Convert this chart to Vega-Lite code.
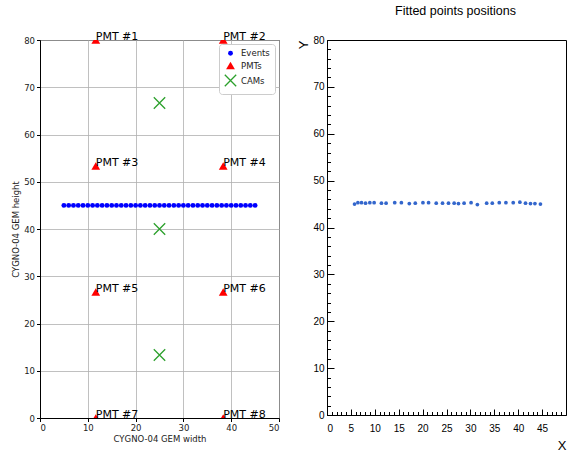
{
  "$schema": "https://vega.github.io/schema/vega-lite/v6.json",
  "padding": {"left": 11, "top": 0, "right": 0, "bottom": 0},
  "spacing": 17,
  "resolve": {"legend": {"shape": "independent", "fill": "independent", "stroke": "independent", "size": "independent"}},
  "config": {
    "view": {"stroke": "black", "strokeWidth": 1},
    "axis": {"domainColor": "black", "tickColor": "black", "labelColor": "#222", "titleColor": "#222", "titleFontWeight": "normal"}
  },
  "datasets": {
    "left": [
      {"x": 5, "y": 45, "type": "Events"}, {"x": 6, "y": 45, "type": "Events"}, {"x": 7, "y": 45, "type": "Events"},
      {"x": 8, "y": 45, "type": "Events"}, {"x": 9, "y": 45, "type": "Events"}, {"x": 10, "y": 45, "type": "Events"},
      {"x": 11, "y": 45, "type": "Events"}, {"x": 12, "y": 45, "type": "Events"}, {"x": 13, "y": 45, "type": "Events"},
      {"x": 14, "y": 45, "type": "Events"}, {"x": 15, "y": 45, "type": "Events"}, {"x": 16, "y": 45, "type": "Events"},
      {"x": 17, "y": 45, "type": "Events"}, {"x": 18, "y": 45, "type": "Events"}, {"x": 19, "y": 45, "type": "Events"},
      {"x": 20, "y": 45, "type": "Events"}, {"x": 21, "y": 45, "type": "Events"}, {"x": 22, "y": 45, "type": "Events"},
      {"x": 23, "y": 45, "type": "Events"}, {"x": 24, "y": 45, "type": "Events"}, {"x": 25, "y": 45, "type": "Events"},
      {"x": 26, "y": 45, "type": "Events"}, {"x": 27, "y": 45, "type": "Events"}, {"x": 28, "y": 45, "type": "Events"},
      {"x": 29, "y": 45, "type": "Events"}, {"x": 30, "y": 45, "type": "Events"}, {"x": 31, "y": 45, "type": "Events"},
      {"x": 32, "y": 45, "type": "Events"}, {"x": 33, "y": 45, "type": "Events"}, {"x": 34, "y": 45, "type": "Events"},
      {"x": 35, "y": 45, "type": "Events"}, {"x": 36, "y": 45, "type": "Events"}, {"x": 37, "y": 45, "type": "Events"},
      {"x": 38, "y": 45, "type": "Events"}, {"x": 39, "y": 45, "type": "Events"}, {"x": 40, "y": 45, "type": "Events"},
      {"x": 41, "y": 45, "type": "Events"}, {"x": 42, "y": 45, "type": "Events"}, {"x": 43, "y": 45, "type": "Events"},
      {"x": 44, "y": 45, "type": "Events"}, {"x": 45, "y": 45, "type": "Events"},
      {"x": 11.67, "y": 80, "type": "PMTs", "label": "PMT #1"},
      {"x": 38.33, "y": 80, "type": "PMTs", "label": "PMT #2"},
      {"x": 11.67, "y": 53.33, "type": "PMTs", "label": "PMT #3"},
      {"x": 38.33, "y": 53.33, "type": "PMTs", "label": "PMT #4"},
      {"x": 11.67, "y": 26.67, "type": "PMTs", "label": "PMT #5"},
      {"x": 38.33, "y": 26.67, "type": "PMTs", "label": "PMT #6"},
      {"x": 11.67, "y": 0, "type": "PMTs", "label": "PMT #7"},
      {"x": 38.33, "y": 0, "type": "PMTs", "label": "PMT #8"},
      {"x": 25, "y": 66.67, "type": "CAMs"},
      {"x": 25, "y": 40, "type": "CAMs"},
      {"x": 25, "y": 13.33, "type": "CAMs"}
    ],
    "right": [
      {"x": 5.76, "y": 45.0}, {"x": 6.46, "y": 45.3}, {"x": 7.22, "y": 45.3}, {"x": 8.06, "y": 45.2},
      {"x": 8.96, "y": 45.3}, {"x": 9.86, "y": 45.3}, {"x": 11.39, "y": 45.2}, {"x": 12.36, "y": 45.2},
      {"x": 14.17, "y": 45.3}, {"x": 15.56, "y": 45.3}, {"x": 17.22, "y": 45.1}, {"x": 18.47, "y": 45.2},
      {"x": 20.07, "y": 45.3}, {"x": 21.25, "y": 45.3}, {"x": 22.85, "y": 45.2}, {"x": 24.17, "y": 45.2},
      {"x": 25.42, "y": 45.2}, {"x": 26.6, "y": 45.2}, {"x": 27.5, "y": 45.1}, {"x": 28.68, "y": 45.2},
      {"x": 30.14, "y": 45.3}, {"x": 31.46, "y": 44.9}, {"x": 33.4, "y": 45.2}, {"x": 34.58, "y": 45.2},
      {"x": 36.04, "y": 45.3}, {"x": 37.43, "y": 45.3}, {"x": 38.96, "y": 45.3}, {"x": 40.35, "y": 45.4},
      {"x": 41.53, "y": 45.2}, {"x": 42.57, "y": 45.1}, {"x": 43.5, "y": 45.1}, {"x": 44.65, "y": 45.0}
    ]
  },
  "hconcat": [
    {
      "width": 239,
      "height": 378,
      "title": {"text": " ", "fontSize": 12.5, "offset": 18},
      "data": {"name": "left"},
      "layer": [
        {
          "mark": {"type": "point", "filled": true, "clip": true, "strokeWidth": 1.3, "opacity": 1},
          "encoding": {
            "x": {"field": "x", "type": "quantitative", "scale": {"domain": [0, 50], "nice": false},
              "axis": {"title": "CYGNO-04 GEM width", "values": [0, 10, 20, 30, 40, 50], "grid": true, "gridColor": "#b0b0b0", "gridWidth": 0.8, "gridOpacity": 1,
                "tickSize": 3.5, "labelFont": "DejaVu Sans", "labelFontSize": 8.5, "titleFont": "DejaVu Sans", "titleFontSize": 8.5, "labelPadding": 2, "titlePadding": 2}},
            "y": {"field": "y", "type": "quantitative", "scale": {"domain": [0, 80], "nice": false},
              "axis": {"title": "CYGNO-04 GEM height", "values": [0, 10, 20, 30, 40, 50, 60, 70, 80], "grid": true, "gridColor": "#b0b0b0", "gridWidth": 0.8, "gridOpacity": 1,
                "tickSize": 3.5, "labelFont": "DejaVu Sans", "labelFontSize": 8.5, "titleFont": "DejaVu Sans", "titleFontSize": 8.5, "labelPadding": 2, "titlePadding": 3}},
            "shape": {"field": "type", "type": "nominal", "scale": {"domain": ["Events", "PMTs", "CAMs"], "range": ["circle", "triangle-up", "M-1,-1L1,1M-1,1L1,-1"]},
              "legend": {"title": null, "orient": "top-right", "offset": 4, "strokeColor": "#cccccc", "fillColor": "white", "padding": 5, "cornerRadius": 3,
                "labelFont": "DejaVu Sans", "labelFontSize": 8.5, "labelColor": "#222", "rowPadding": 0, "symbolStrokeWidth": 1.3}},
            "fill": {"field": "type", "type": "nominal", "scale": {"domain": ["Events", "PMTs", "CAMs"], "range": ["#0000ff", "#ff0000", "transparent"]}},
            "stroke": {"field": "type", "type": "nominal", "scale": {"domain": ["Events", "PMTs", "CAMs"], "range": ["transparent", "transparent", "#2ca02c"]}},
            "size": {"field": "type", "type": "nominal", "scale": {"domain": ["Events", "PMTs", "CAMs"], "range": [24, 130, 75]}}
          }
        },
        {
          "transform": [{"filter": "datum.label != null"}],
          "mark": {"type": "text", "align": "left", "baseline": "alphabetic", "fontSize": 11, "font": "DejaVu Sans", "color": "black"},
          "encoding": {
            "x": {"field": "x", "type": "quantitative"},
            "y": {"field": "y", "type": "quantitative"},
            "text": {"field": "label"}
          }
        }
      ]
    },
    {
      "width": 239,
      "height": 375,
      "title": {"text": "Fitted points positions", "font": "Liberation Sans", "fontSize": 12.5, "fontWeight": "normal", "color": "black", "offset": 18, "dx": 9},
      "data": {"name": "right"},
      "layer": [
        {
          "mark": {"type": "point", "filled": true, "size": 14, "color": "#3366cc", "opacity": 1},
          "encoding": {
            "x": {"field": "x", "type": "quantitative", "scale": {"domain": [0, 50], "nice": false},
              "axis": {"orient": "bottom", "title": "X", "titleAnchor": "end", "titleAlign": "right", "titleFont": "Liberation Sans", "titleFontSize": 13, "titleColor": "black", "titlePadding": 6,
                "values": [0, 5, 10, 15, 20, 25, 30, 35, 40, 45], "tickSize": -6, "labelPadding": 14, "labelFont": "Liberation Sans", "labelFontSize": 10, "labelColor": "black", "grid": false}},
            "y": {"field": "y", "type": "quantitative", "scale": {"domain": [0, 80], "nice": false},
              "axis": {"orient": "left", "title": "Y", "titleAnchor": "end", "titleFont": "Liberation Sans", "titleFontSize": 13, "titleColor": "black", "titlePadding": 2,
                "values": [0, 10, 20, 30, 40, 50, 60, 70, 80], "tickSize": -7, "labelPadding": 10, "labelFont": "Liberation Sans", "labelFontSize": 10, "labelColor": "black", "grid": false}}
          }
        },
        {
          "mark": {"type": "point", "opacity": 0},
          "encoding": {
            "x": {"field": "x", "type": "quantitative", "scale": {"domain": [0, 50], "nice": false},
              "axis": {"orient": "bottom", "title": null, "labels": false, "domain": false, "grid": false, "tickSize": -3.5,
                "values": [0, 1, 2, 3, 4, 5, 6, 7, 8, 9, 10, 11, 12, 13, 14, 15, 16, 17, 18, 19, 20, 21, 22, 23, 24, 25, 26, 27, 28, 29, 30, 31, 32, 33, 34, 35, 36, 37, 38, 39, 40, 41, 42, 43, 44, 45, 46, 47, 48, 49]}},
            "y": {"field": "y", "type": "quantitative", "scale": {"domain": [0, 80], "nice": false},
              "axis": {"orient": "left", "title": null, "labels": false, "domain": false, "grid": false, "tickSize": -3.5,
                "values": [0, 2, 4, 6, 8, 10, 12, 14, 16, 18, 20, 22, 24, 26, 28, 30, 32, 34, 36, 38, 40, 42, 44, 46, 48, 50, 52, 54, 56, 58, 60, 62, 64, 66, 68, 70, 72, 74, 76, 78, 80]}}
          }
        }
      ],
      "resolve": {"axis": {"x": "independent", "y": "independent"}}
    }
  ]
}
